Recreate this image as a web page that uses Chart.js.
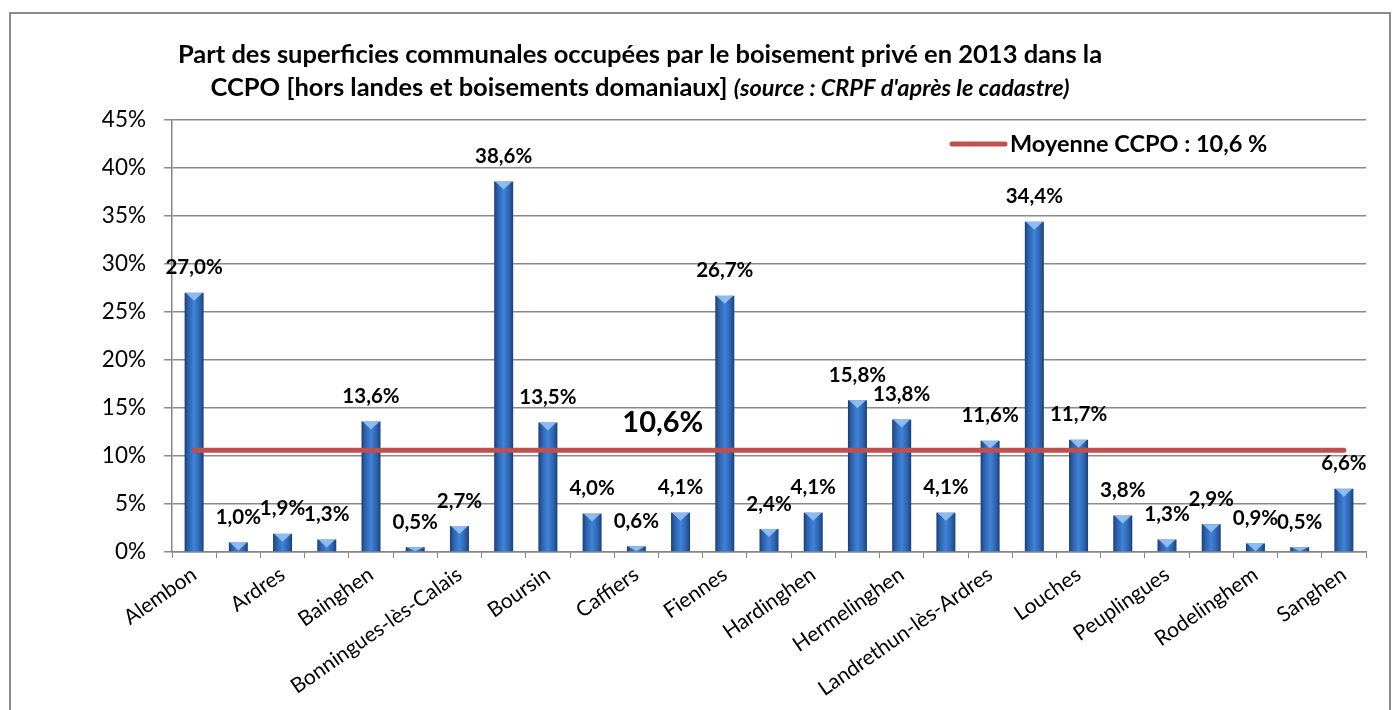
<!DOCTYPE html>
<html>
<head>
<meta charset="utf-8">
<script src="https://cdn.jsdelivr.net/npm/chart.js@4.4.1/dist/chart.umd.min.js"></script>
<style>
  html, body { margin: 0; padding: 0; background: #fff; }
  #wrap { position: relative; width: 1400px; height: 710px; overflow: hidden; }
  #frame { position: absolute; left: 9px; top: 12px; width: 1382px; height: 740px; border: 2px solid #8c8c8c; box-sizing: border-box; }
  #chart { position: absolute; left: 0; top: 0; }
</style>
</head>
<body>
<div id="wrap">
  <div id="frame"></div>
  <canvas id="chart" width="1400" height="710"></canvas>
</div>
<script>
const communes = [
  "Alembon", "Andres", "Ardres", "Autingues", "Bainghen", "Balinghem",
  "Bonningues-lès-Calais", "Bouquehault", "Boursin", "Brêmes", "Caffiers",
  "Campagne-lès-Guînes", "Fiennes", "Guînes", "Hardinghen", "Herbinghen",
  "Hermelinghen", "Hocquinghen", "Landrethun-lès-Ardres", "Licques", "Louches",
  "Nielles-lès-Ardres", "Peuplingues", "Pihen-lès-Guînes", "Rodelinghem",
  "Saint-Tricat", "Sanghen"
];
const partBoisement = [
  27.0, 1.0, 1.9, 1.3, 13.6, 0.5, 2.7, 38.6, 13.5, 4.0, 0.6, 4.1, 26.7, 2.4,
  4.1, 15.8, 13.8, 4.1, 11.6, 34.4, 11.7, 3.8, 1.3, 2.9, 0.9, 0.5, 6.6
];
const moyenneCCPO = 10.6;
const yTicks = [0, 5, 10, 15, 20, 25, 30, 35, 40, 45];

const titreLigne1 = "Part des superficies communales occupées par le boisement privé en 2013 dans la";
const titreLigne2 = "CCPO [hors landes et boisements domaniaux] ";
const titreSource = "(source : CRPF d'après le cadastre)";
const legendeMoyenne = "Moyenne CCPO : 10,6 %";

const FONT = "Lato, 'Open Sans', sans-serif";
const BAR_PCT = 0.43;

function fmt(v) {
  return v.toFixed(1).replace(".", ",") + "%";
}

function barFill(c) {
  const chart = c.chart;
  const xs = chart.scales.x;
  if (!xs || c.dataIndex === undefined) return "#2f66b3";
  const cx = xs.getPixelForValue(c.dataIndex);
  const hw = xs.width / communes.length * BAR_PCT / 2;
  if (!isFinite(cx) || !isFinite(hw) || hw <= 0) return "#2f66b3";
  const g = chart.ctx.createLinearGradient(cx - hw, 0, cx + hw, 0);
  g.addColorStop(0, "#1c3f76");
  g.addColorStop(0.2, "#2c63b0");
  g.addColorStop(0.5, "#4183d8");
  g.addColorStop(0.8, "#2c63b0");
  g.addColorStop(1, "#1c3f76");
  return g;
}

// titre, légende, étiquettes
const decor = {
  id: "decor",
  afterDatasetDraw(chart, args) {
    if (args.index !== 0) return;
    const ctx = chart.ctx;
    ctx.save();
    args.meta.data.forEach(el => {
      const l = el.x - el.width / 2, r = el.x + el.width / 2;
      const h = Math.min(8, el.base - el.y);
      ctx.beginPath();
      ctx.moveTo(l + 1, el.y);
      ctx.lineTo(r - 1, el.y);
      ctx.lineTo(el.x, el.y + h);
      ctx.closePath();
      ctx.fillStyle = "rgba(150,195,245,0.9)";
      ctx.fill();
    });
    ctx.restore();
  },
  afterDraw(chart) {
    const ctx = chart.ctx;
    const xs = chart.scales.x, ys = chart.scales.y;
    ctx.save();
    ctx.fillStyle = "#000";
    ctx.textBaseline = "middle";

    // titre
    ctx.textAlign = "center";
    ctx.font = "bold 25.5px " + FONT;
    ctx.fillText(titreLigne1, 640, 55);
    const w1 = ctx.measureText(titreLigne2).width;
    ctx.font = "italic bold 23.5px " + FONT;
    const w2 = ctx.measureText(titreSource).width;
    const x0 = 640 - (w1 + w2) / 2;
    ctx.textAlign = "left";
    ctx.font = "bold 25.5px " + FONT;
    ctx.fillText(titreLigne2, x0, 88);
    ctx.font = "italic bold 23.5px " + FONT;
    ctx.fillText(titreSource, x0 + w1, 88);

    // légende
    ctx.strokeStyle = "#c0504d";
    ctx.lineWidth = 5;
    ctx.lineCap = "round";
    ctx.beginPath();
    ctx.moveTo(952, 144);
    ctx.lineTo(1005, 144);
    ctx.stroke();
    ctx.font = "bold 23.5px " + FONT;
    ctx.fillText(legendeMoyenne, 1010, 144);

    // valeurs des barres
    ctx.textAlign = "center";
    ctx.font = "bold 20.5px " + FONT;
    chart.getDatasetMeta(0).data.forEach((el, i) => {
      ctx.fillText(fmt(partBoisement[i]), el.x, el.y - 25);
    });

    // étiquette de la moyenne
    ctx.font = "bold 29px " + FONT;
    ctx.fillText(fmt(moyenneCCPO), xs.getPixelForValue(10.6), ys.getPixelForValue(moyenneCCPO) - 28);
    ctx.restore();
  }
};

new Chart(document.getElementById("chart"), {
  type: "bar",
  data: {
    labels: communes,
    datasets: [
      {
        type: "bar",
        label: "Part boisée",
        data: partBoisement,
        backgroundColor: barFill,
        borderWidth: 0,
        categoryPercentage: 1,
        barPercentage: BAR_PCT,
        order: 2
      },
      {
        type: "line",
        label: legendeMoyenne,
        data: communes.map(() => moyenneCCPO),
        borderColor: "#c0504d",
        borderWidth: 5,
        borderCapStyle: "round",
        pointRadius: 0,
        fill: false,
        order: 1
      }
    ]
  },
  options: {
    responsive: false,
    animation: false,
    layout: { padding: { top: 120, right: 34, left: 0, bottom: 0 } },
    plugins: {
      legend: { display: false },
      title: { display: false },
      tooltip: { enabled: false }
    },
    scales: {
      x: {
        afterFit: s => { s.height = 158; },
        grid: { drawOnChartArea: false, color: "#868686", tickLength: 6, offset: true },
        border: { color: "#868686", width: 1.5 },
        ticks: {
          autoSkip: false,
          maxRotation: 35,
          minRotation: 35,
          padding: 4,
          color: "#000",
          font: { family: FONT, size: 21 },
          callback: (v, i) => (i % 2 === 0 ? communes[i] : "")
        }
      },
      y: {
        min: 0,
        max: 45,
        afterFit: s => { s.width = 172; },
        afterBuildTicks: s => { s.ticks = yTicks.map(v => ({ value: v })); },
        grid: { color: "#8a8a8a", lineWidth: 1.5, tickLength: 8 },
        border: { color: "#868686", width: 1.5 },
        ticks: {
          padding: 18,
          color: "#000",
          font: { family: FONT, size: 22.5 },
          callback: v => v + "%"
        }
      }
    }
  },
  plugins: [decor]
});
</script>
</body>
</html>
